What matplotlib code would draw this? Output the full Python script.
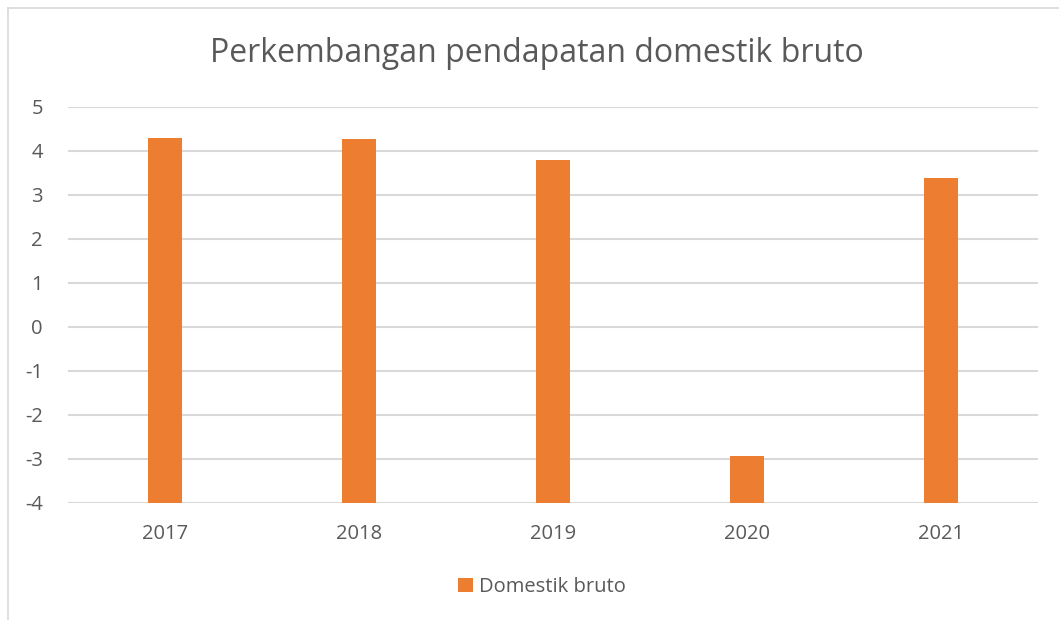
import matplotlib
matplotlib.use("Agg")
import matplotlib.pyplot as plt
from matplotlib.lines import Line2D
from matplotlib.patches import Patch
import numpy as np

categories = ["2017", "2018", "2019", "2020", "2021"]
values = [4.28, 4.26, 3.80, -2.93, 3.39]
series_name = "Domestik bruto"
title = "Perkembangan pendapatan domestik bruto"
y_ticks = [-4, -3, -2, -1, 0, 1, 2, 3, 4, 5]

ORANGE = "#ED7D31"
TEXT = "#595959"
GRID = "#D9D9D9"

plt.rcParams['font.family'] = ['Open Sans', 'DejaVu Sans']

W, H = 1059, 620
fig = plt.figure(figsize=(W / 100, H / 100), dpi=100)
fig.patch.set_facecolor("white")

ax = fig.add_axes([68 / W, 1 - 502.7 / H, (1038 - 68) / W, (502.7 - 106.7) / H])
ymin, ymax = y_ticks[0], y_ticks[-1]
x = np.arange(len(categories))
vals = np.array(values)
ax.bar(x, vals - ymin, bottom=ymin, width=0.175, color=ORANGE, zorder=3, label=series_name)

ax.set_xlim(-0.5, len(categories) - 0.5)
ax.set_ylim(ymin, ymax)
ax.set_yticks(y_ticks)
ax.set_yticklabels([str(t) for t in y_ticks])
ax.set_xticks(x)
ax.set_xticklabels(categories)
ax.tick_params(axis="both", length=0, labelcolor=TEXT, labelsize=14.5)
ax.tick_params(axis="y", pad=18)
ax.tick_params(axis="x", pad=15)
for lbl in ax.get_yticklabels():
    lbl.set_horizontalalignment("right")
ax.grid(axis="y", color=GRID, linewidth=1.5, zorder=0)
for s in ax.spines.values():
    s.set_visible(False)

fig.text(537 / W, 1 - 53 / H, title, ha="center", va="center", fontsize=23, color=TEXT)

# Chart area border (top and left visible)
fig.add_artist(Line2D([8 / W, 8 / W], [0, 1 - 8 / H], transform=fig.transFigure, color=GRID, linewidth=1.2))
fig.add_artist(Line2D([8 / W, 1], [1 - 8 / H, 1 - 8 / H], transform=fig.transFigure, color=GRID, linewidth=1.2))

handles = [Patch(facecolor=ORANGE, edgecolor="none")]
leg = fig.legend(handles, [series_name], loc="center", bbox_to_anchor=(542 / W, 1 - 587 / H),
                 frameon=False, fontsize=14.5, handlelength=0.7, handleheight=0.7,
                 handletextpad=0.3, borderpad=0)
for t in leg.get_texts():
    t.set_color(TEXT)

fig.savefig("out.png", dpi=100, facecolor="white")
